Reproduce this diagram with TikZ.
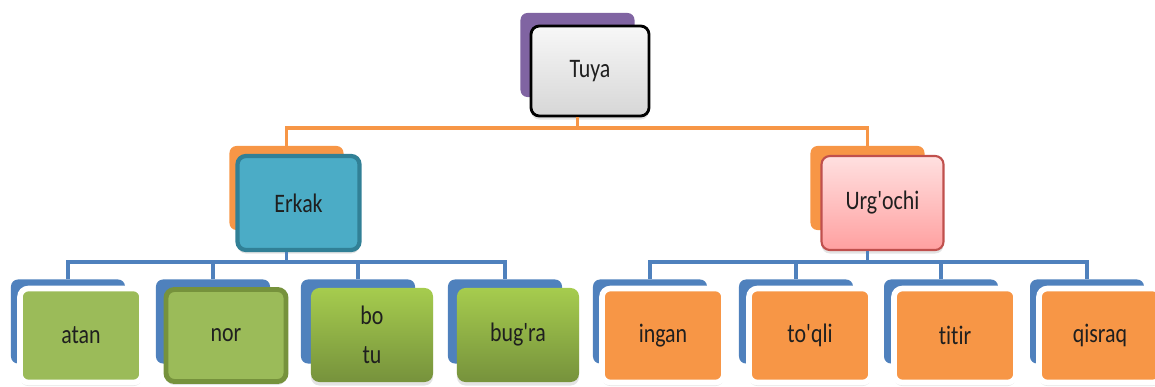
\documentclass[tikz,border=0pt]{standalone}
\usepackage{fontspec}
\setmainfont{Carlito}[FakeStretch=0.82,Ligatures={TeXOff,NoCommon}]
\usetikzlibrary{shadows}
\definecolor{violetBack}{RGB}{128,100,162}
\definecolor{orangeCS}{RGB}{247,150,70}
\definecolor{blueCS}{RGB}{79,129,189}
\definecolor{tealFill}{RGB}{75,172,198}
\definecolor{tealEdge}{RGB}{49,128,150}
\definecolor{greenFill}{RGB}{155,187,89}
\definecolor{oliveEdge}{RGB}{118,146,60}
\definecolor{greenTop}{RGB}{166,204,78}
\definecolor{redEdge}{RGB}{192,80,77}
\definecolor{pinkTop}{RGB}{255,224,224}
\definecolor{pinkBot}{RGB}{255,160,160}

\begin{document}
\begin{tikzpicture}[x=0.025cm,y=-0.025cm,
      back/.style={rounded corners=5pt,minimum width=2.85cm,minimum height=2.1cm,inner sep=0pt},
      box/.style={rounded corners=6pt,minimum width=3.05cm,minimum height=2.35cm,inner sep=0pt,align=center,
        font=\fontsize{19}{21}\selectfont,text=black!88,
        drop shadow={opacity=0.22,shadow xshift=0pt,shadow yshift=-2.5pt}},
      framed/.style={box,draw=white,line width=4pt},
      link/.style={line width=2.8pt}
    ]
    \useasboundingbox (0,0) rectangle (1155,387);
    % level 0
    \node[back,fill=violetBack] (tuyab) at (577.5,55) {};
    \node[box,minimum width=2.95cm,minimum height=2.25cm,draw=black,line width=2pt,top color=gray!6,bottom color=gray!32] (tuya) at (590,71) {Tuya};
    % level 1
    \node[back,fill=orangeCS] (erkakb) at (286.5,188) {};
    \node[box,fill=tealFill,draw=tealEdge,line width=3pt] (erkak) at (298.5,203) {Erkak};
    \node[back,fill=orangeCS] (urgb) at (867.5,188) {};
    \node[box,top color=pinkTop,bottom color=pinkBot,draw=redEdge,line width=1.5pt] (urg) at (882.5,203) {Urg'ochi};
    % level 2
    \foreach \n/\x in {atanb/68,norb/213,botub/358,bugrab/505,inganb/650,toqlib/796,titirb/941,qisraqb/1087}
      \node[back,fill=blueCS] (\n) at (\x,321.5) {};
    \node[framed,fill=greenFill] (atan) at (81,335.5) {atan};
    \node[box,minimum width=3.0cm,minimum height=2.3cm,fill=greenFill,draw=oliveEdge,line width=3.5pt] (nor) at (226,335.5) {nor};
    \node[box,top color=greenTop,bottom color=oliveEdge] (botu) at (372,335) {bo\\[7pt]tu};
    \node[box,top color=greenTop,bottom color=oliveEdge] (bugra) at (518,335) {bug'ra};
    \node[framed,fill=orangeCS] (ingan) at (663,335.5) {ingan};
    \node[framed,fill=orangeCS] (toqli) at (810,335.5) {to'qli};
    \node[framed,fill=orangeCS] (titir) at (955,335.5) {titir};
    \node[framed,fill=orangeCS] (qisraq) at (1100,335.5) {qisraq};
    % connectors
    \coordinate (bus0) at (577.5,128);
    \coordinate (bus1) at (286.5,262);
    \coordinate (bus2) at (867.5,262);
    \draw[link,orangeCS] (tuya.south -| bus0) -- (bus0);
    \draw[link,orangeCS] (erkakb.north) |- (bus0) -| (urgb.north);
    \draw[link,blueCS] (erkak.south -| bus1) -- (bus1);
    \draw[link,blueCS] (atanb.north) |- (bus1) -| (bugrab.north);
    \draw[link,blueCS] (urg.south -| bus2) -- (bus2);
    \draw[link,blueCS] (inganb.north) |- (bus2) -| (qisraqb.north);
    \foreach \n in {norb,botub,toqlib,titirb}
      \draw[link,blueCS] (\n.north) -- (\n.north |- bus1);
  \end{tikzpicture}
\end{document}
